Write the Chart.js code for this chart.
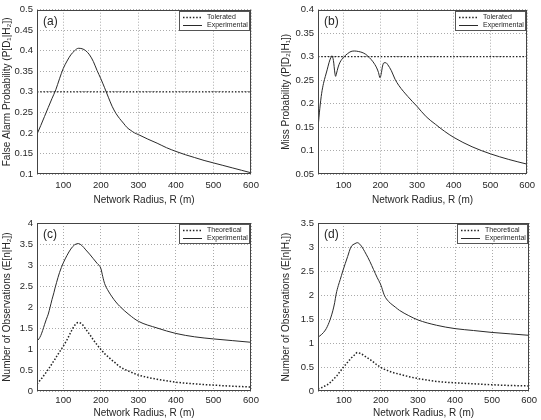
<!DOCTYPE html>
<html>
<head>
<meta charset="utf-8">
<script src="https://cdn.jsdelivr.net/npm/chart.js@4.4.1/dist/chart.umd.min.js"></script>
<style>
  body { margin: 0; background: #fff; width: 541px; height: 420px; position: relative; overflow: hidden; }
  canvas { position: absolute; }
</style>
</head>
<body>
<canvas id="chartA" width="270" height="210" style="left:0px;top:0px"></canvas>
<canvas id="chartB" width="271" height="210" style="left:270px;top:0px"></canvas>
<canvas id="chartC" width="270" height="210" style="left:0px;top:210px"></canvas>
<canvas id="chartD" width="271" height="210" style="left:270px;top:210px"></canvas>
<script>
// shared x axis
const radiusTicks = [100, 200, 300, 400, 500, 600];
const toleratedR = [30, 600];

// (a) false alarm probability
const radiusA = [30, 40, 50, 60, 70, 80, 90, 100, 110, 120, 130, 140, 150, 160, 170, 180, 190, 200, 210, 220,
  230, 240, 250, 260, 270, 280, 290, 300, 325, 350, 375, 400, 425, 450, 475, 500, 525, 550, 575, 600];
const falseAlarmExp = [0.197, 0.218, 0.240, 0.262, 0.284, 0.305, 0.332, 0.357, 0.375, 0.390, 0.400, 0.406, 0.405,
  0.400, 0.390, 0.374, 0.352, 0.332, 0.310, 0.287, 0.265, 0.248, 0.235, 0.224, 0.213, 0.206, 0.200, 0.196, 0.185,
  0.175, 0.164, 0.155, 0.147, 0.140, 0.133, 0.127, 0.121, 0.115, 0.109, 0.103];
const falseAlarmTol = [0.3, 0.3];
const yTicksA = [0.1, 0.15, 0.2, 0.25, 0.3, 0.35, 0.4, 0.45, 0.5];

// (b) miss probability
const radiusB = [30, 35, 40, 45, 50, 55, 60, 65, 68, 72, 76, 78, 80, 85, 90, 100, 110, 120, 130, 140, 150, 160,
  170, 180, 190, 195, 199, 202, 206, 210, 215, 220, 230, 240, 250, 275, 300, 325, 350, 375, 400, 450, 500, 550, 600];
const missExp = [0.148, 0.19, 0.222, 0.243, 0.258, 0.272, 0.287, 0.298, 0.302, 0.292, 0.265, 0.258, 0.263, 0.278,
  0.288, 0.299, 0.306, 0.311, 0.312, 0.311, 0.309, 0.305, 0.298, 0.289, 0.276, 0.266, 0.255, 0.262, 0.280, 0.287,
  0.287, 0.283, 0.270, 0.252, 0.239, 0.215, 0.194, 0.172, 0.156, 0.141, 0.128, 0.108, 0.093, 0.081, 0.071];
const missTol = [0.3, 0.3];
const yTicksB = [0.05, 0.1, 0.15, 0.2, 0.25, 0.3, 0.35, 0.4];

// (c) observations under H2
const radiusC = [30, 35, 40, 45, 50, 55, 60, 65, 70, 75, 78, 82, 90, 100, 110, 120, 130, 140, 150, 160,
  170, 180, 190, 200, 205, 210, 220, 230, 240, 250, 275, 300, 350, 400, 450, 500, 550, 600];
const obsExpC = [1.19, 1.24, 1.32, 1.44, 1.58, 1.71, 1.83, 2.0, 2.18, 2.34, 2.45, 2.58, 2.82, 3.05, 3.23, 3.38,
  3.48, 3.51, 3.46, 3.36, 3.26, 3.15, 3.04, 2.92, 2.73, 2.56, 2.38, 2.24, 2.12, 2.02, 1.82, 1.66, 1.5, 1.37,
  1.29, 1.24, 1.2, 1.16];
const obsTheoC = [0.17, 0.22, 0.27, 0.33, 0.39, 0.45, 0.52, 0.58, 0.65, 0.72, 0.76, 0.82, 0.93, 1.07, 1.22, 1.40,
  1.56, 1.63, 1.59, 1.47, 1.35, 1.22, 1.1, 0.99, 0.94, 0.89, 0.81, 0.73, 0.66, 0.58, 0.47, 0.38, 0.28, 0.21,
  0.17, 0.14, 0.115, 0.095];
const yTicksC = [0, 0.5, 1, 1.5, 2, 2.5, 3, 3.5, 4];

// (d) observations under H1
const radiusD = [30, 40, 50, 55, 60, 65, 70, 75, 79, 85, 90, 97, 110, 119, 130, 136, 145, 160, 170, 180,
  190, 198, 202, 206, 210, 220, 230, 240, 250, 275, 300, 350, 400, 450, 500, 550, 600];
const obsExpD = [1.12, 1.18, 1.27, 1.34, 1.43, 1.54, 1.67, 1.84, 2.02, 2.2, 2.32, 2.5, 2.8, 3.0, 3.07, 3.09,
  3.04, 2.85, 2.7, 2.53, 2.36, 2.24, 2.16, 2.06, 1.98, 1.87, 1.8, 1.74, 1.68, 1.57, 1.48, 1.37, 1.3, 1.26,
  1.22, 1.19, 1.16];
const obsTheoD = [0.04, 0.07, 0.11, 0.13, 0.16, 0.19, 0.23, 0.27, 0.3, 0.36, 0.41, 0.48, 0.6, 0.68, 0.76, 0.8,
  0.78, 0.71, 0.66, 0.6, 0.54, 0.5, 0.48, 0.46, 0.45, 0.42, 0.39, 0.37, 0.35, 0.3, 0.26, 0.2, 0.17, 0.15,
  0.13, 0.115, 0.105];
const yTicksD = [0, 0.5, 1, 1.5, 2, 2.5, 3, 3.5];

const FONT = '"Liberation Sans", Arial, Helvetica, sans-serif';
const TEXT = '#262626';

function pts(xs, ys) {
  return xs.map((x, i) => ({ x: x, y: ys[i] }));
}

function solid(label, xs, ys) {
  return { label: label, data: pts(xs, ys), borderColor: '#2a2a2a', borderWidth: 1, pointRadius: 0,
    cubicInterpolationMode: 'monotone', fill: false, dash: [] };
}

function dotted(label, xs, ys, width) {
  return { label: label, data: pts(xs, ys), borderColor: '#222', borderWidth: width, borderDash: [1.5, 1.8],
    pointRadius: 0, cubicInterpolationMode: 'monotone', fill: false, dash: [1.5, 1.8] };
}

// box, legend and panel letter drawn on top of the plot
const decoPlugin = {
  id: 'deco',
  afterDraw(chart, args, opts) {
    const ctx = chart.ctx;
    const ca = chart.chartArea;
    ctx.save();
    ctx.strokeStyle = '#444';
    ctx.lineWidth = 1;
    ctx.setLineDash([]);
    ctx.strokeRect(Math.round(ca.left) + 0.5, Math.round(ca.top) + 0.5,
      Math.round(ca.right - ca.left) - 1, Math.round(ca.bottom - ca.top) - 1);

    // legend
    const w = 72, h = 20;
    const lx = Math.round(ca.right) - w, ly = Math.round(ca.top) + 1;
    ctx.fillStyle = '#fff';
    ctx.fillRect(lx, ly, w - 1, h);
    ctx.strokeStyle = '#555';
    ctx.strokeRect(lx + 0.5, ly + 0.5, w - 2, h - 1);
    const order = [1, 0];
    order.forEach((di, i) => {
      const ds = chart.data.datasets[di];
      const yy = ly + 6.5 + i * 8;
      ctx.strokeStyle = ds.borderColor;
      ctx.lineWidth = ds.borderWidth;
      ctx.setLineDash(ds.dash);
      ctx.beginPath();
      ctx.moveTo(lx + 4, yy);
      ctx.lineTo(lx + 23, yy);
      ctx.stroke();
      ctx.setLineDash([]);
      ctx.fillStyle = TEXT;
      ctx.font = '7px ' + FONT;
      ctx.textBaseline = 'middle';
      ctx.textAlign = 'left';
      ctx.fillText(ds.label, lx + 28, yy);
    });

    // panel letter
    ctx.fillStyle = TEXT;
    ctx.font = '12px ' + FONT;
    ctx.textBaseline = 'middle';
    ctx.textAlign = 'left';
    ctx.fillText(opts.letter, ca.left + 6, ca.top + 12);
    ctx.restore();
  }
};

function makePanel(id, cfg) {
  new Chart(document.getElementById(id), {
    type: 'line',
    data: { datasets: cfg.datasets },
    options: {
      responsive: false,
      animation: false,
      layout: { padding: cfg.padding },
      plugins: {
        legend: { display: false },
        tooltip: { enabled: false },
        deco: { letter: cfg.letter }
      },
      scales: {
        x: {
          type: 'linear', min: 30, max: 600,
          afterBuildTicks: s => { s.ticks = radiusTicks.map(v => ({ value: v })); },
          afterFit: s => { s.height = cfg.xHeight; },
          grid: { color: '#aaa', lineWidth: 1, drawTicks: false },
          border: { display: false, dash: [1, 2] },
          ticks: { color: TEXT, font: { family: FONT, size: 9.5 }, padding: cfg.xTickPad, maxRotation: 0,
            callback: v => String(v) },
          title: { display: true, text: 'Network Radius, R (m)', color: TEXT,
            font: { family: FONT, size: 10 }, padding: { top: 0, bottom: cfg.xTitlePad } }
        },
        y: {
          type: 'linear', min: cfg.yTicks[0], max: cfg.yTicks[cfg.yTicks.length - 1],
          afterBuildTicks: s => { s.ticks = cfg.yTicks.map(v => ({ value: v })); },
          afterFit: s => { s.width = cfg.yWidth; },
          grid: { color: '#aaa', lineWidth: 1, drawTicks: false },
          border: { display: false, dash: [1, 2] },
          ticks: { color: TEXT, font: { family: FONT, size: 9.5 }, padding: 4, callback: v => String(v) },
          title: { display: true, text: cfg.yTitle, color: TEXT,
            font: { family: FONT, size: 10 }, padding: { top: cfg.yTitlePad, bottom: 0 } }
        }
      }
    },
    plugins: [decoPlugin]
  });
}

makePanel('chartA', {
  letter: '(a)',
  datasets: [solid('Experimental', radiusA, falseAlarmExp), dotted('Tolerated', toleratedR, falseAlarmTol, 1.4)],
  yTicks: yTicksA, yTitle: 'False Alarm Probability (P[D\u2081|H\u2082])',
  padding: { left: 0, right: 19, top: 6, bottom: 0 }, yWidth: 37, yTitlePad: 1,
  xHeight: 36, xTickPad: 6, xTitlePad: 4
});

makePanel('chartB', {
  letter: '(b)',
  datasets: [solid('Experimental', radiusB, missExp), dotted('Tolerated', toleratedR, missTol, 1.4)],
  yTicks: yTicksB, yTitle: 'Miss Probability (P[D\u2082|H\u2081])',
  padding: { left: 0, right: 7, top: 6, bottom: 0 }, yWidth: 48, yTitlePad: 10,
  xHeight: 36, xTickPad: 6, xTitlePad: 4
});

makePanel('chartC', {
  letter: '(c)',
  datasets: [solid('Experimental', radiusC, obsExpC), dotted('Theoretical', radiusC, obsTheoC, 1.5)],
  yTicks: yTicksC, yTitle: 'Number of Observations (E[n|H\u2082])',
  padding: { left: 0, right: 19, top: 13, bottom: 0 }, yWidth: 37, yTitlePad: 1,
  xHeight: 29, xTickPad: 4, xTitlePad: 1
});

makePanel('chartD', {
  letter: '(d)',
  datasets: [solid('Experimental', radiusD, obsExpD), dotted('Theoretical', radiusD, obsTheoD, 1.5)],
  yTicks: yTicksD, yTitle: 'Number of Observations (E[n|H\u2081])',
  padding: { left: 0, right: 7, top: 13, bottom: 0 }, yWidth: 48, yTitlePad: 10,
  xHeight: 29, xTickPad: 4, xTitlePad: 1
});
</script>
</body>
</html>
